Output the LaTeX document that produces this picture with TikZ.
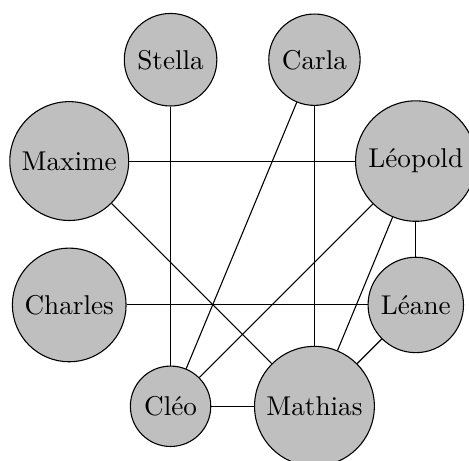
\documentclass[tikz,border=0pt]{standalone}
\begin{document}
\begin{tikzpicture}

      \useasboundingbox (-3.135,-2.946) rectangle (2.928,3.012);

      \begin{scope}[every node/.style={circle,draw,fill=gray!50}]
        \node (leopold) at (2.24,0.93)   {Léopold};
        \node (carla)   at (0.93,2.24)   {Carla};
        \node (stella)  at (-0.93,2.24)  {Stella};
        \node (maxime)  at (-2.24,0.93)  {Maxime};
        \node (charles) at (-2.24,-0.93) {Charles};
        \node (cleo)    at (-0.93,-2.24) {Cléo};
        \node (mathias) at (0.93,-2.24)  {Mathias};
        \node (leane)   at (2.24,-0.93)  {Léane};
      \end{scope}

      \begin{scope}[every edge/.style={draw}]
        \path (stella)  edge (cleo);
        \path (carla)   edge (cleo);
        \path (carla)   edge (mathias);
        \path (maxime)  edge (leopold);
        \path (maxime)  edge (mathias);
        \path (leopold) edge (cleo);
        \path (leopold) edge (mathias);
        \path (leopold) edge (leane);
        \path (charles) edge (leane);
        \path (leane)   edge (mathias);
        \path (cleo)    edge (mathias);
      \end{scope}

    \end{tikzpicture}
\end{document}
